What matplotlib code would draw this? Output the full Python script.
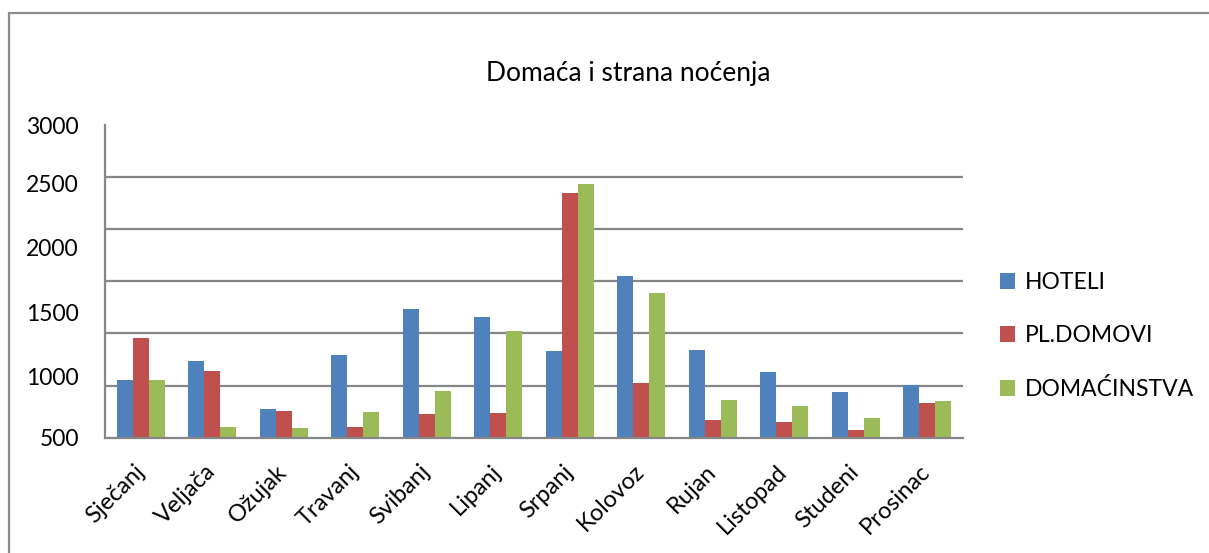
import numpy as np
import matplotlib
matplotlib.use("Agg")
import matplotlib.pyplot as plt
from matplotlib.ticker import FixedLocator, NullFormatter
from matplotlib.patches import Rectangle

plt.rcParams['font.family'] = ['Lato', 'DejaVu Sans']

# ---- data ----
months = ["Sječanj", "Veljača", "Ožujak", "Travanj", "Svibanj", "Lipanj",
          "Srpanj", "Kolovoz", "Rujan", "Listopad", "Studeni", "Prosinac"]
series_names = ["HOTELI", "PL.DOMOVI", "DOMAĆINSTVA"]
hoteli = [973, 1123, 735, 1170, 1528, 1466, 1201, 1781, 1209, 1037, 875, 932]
pl_domovi = [1302, 1045, 719, 588, 694, 703, 2424, 948, 645, 629, 563, 785]
domacinstva = [973, 590, 580, 711, 883, 1357, 2493, 1651, 809, 760, 662, 801]
y_ticks = [500, 1000, 1500, 2000, 2500, 3000]
title = "Domaća i strana noćenja"

colors = ["#4F81BD", "#C0504D", "#9BBB59"]
grid_col = "#868686"

# uneven label placement of the source axis (layout of the y scale)
tick_frac = np.array([0.0, 0.195, 0.400, 0.608, 0.814, 1.0])
tv = np.array(y_ticks, dtype=float)


def fwd(v):
    v = np.asarray(v, dtype=float)
    lo = (v - tv[0]) / (tv[1] - tv[0]) * (tick_frac[1] - tick_frac[0])
    hi = 1.0 + (v - tv[-1]) / (tv[-1] - tv[-2]) * (tick_frac[-1] - tick_frac[-2])
    mid = np.interp(v, tv, tick_frac)
    return np.where(v < tv[0], lo, np.where(v > tv[-1], hi, mid))


def inv(f):
    f = np.asarray(f, dtype=float)
    lo = tv[0] + f / (tick_frac[1] - tick_frac[0]) * (tv[1] - tv[0])
    hi = tv[-1] + (f - 1.0) / (tick_frac[-1] - tick_frac[-2]) * (tv[-1] - tv[-2])
    mid = np.interp(f, tick_frac, tv)
    return np.where(f < 0, lo, np.where(f > 1, hi, mid))


fig = plt.figure(figsize=(12.09, 5.53), dpi=100)
ax = fig.add_axes([105.3 / 1209, 1 - 437.7 / 553, (962.7 - 105.3) / 1209, (437.7 - 125) / 553])

x = np.arange(len(months))
w = 0.224
bars = []
for i, (vals, c) in enumerate(zip([hoteli, pl_domovi, domacinstva], colors)):
    b = ax.bar(x + (i - 1) * w, vals, w, color=c, zorder=3, label=series_names[i])
    bars.append(b)

ax.set_yscale('function', functions=(fwd, inv))
ax.set_ylim(500, 3000)
ax.set_xlim(-0.5, len(months) - 0.5)

ax.yaxis.set_major_locator(FixedLocator(y_ticks))
ax.yaxis.set_minor_locator(FixedLocator(list(inv(np.linspace(0, 1, 7)))))
ax.yaxis.set_minor_formatter(NullFormatter())
ax.grid(which='minor', axis='y', color=grid_col, lw=1.6, zorder=1)
ax.grid(which='major', visible=False)
ax.tick_params(axis='y', which='both', length=0, labelsize=16.5, pad=19)

ax.set_xticks(x)
ax.set_xticklabels(months, rotation=45, ha='right', va='center', rotation_mode='anchor', fontsize=17)
ax.tick_params(axis='x', length=0, pad=22)

for s in ['top', 'right']:
    ax.spines[s].set_visible(False)
for s in ['left', 'bottom']:
    ax.spines[s].set_color(grid_col)
    ax.spines[s].set_linewidth(1.6)
    ax.spines[s].set_zorder(4)

fig.text(628 / 1209, 1 - 73 / 553, title, ha='center', va='center', fontsize=19)

fig.legend(handles=bars, labels=series_names, loc='center left',
           bbox_to_anchor=(1000 / 1209, 1 - 336 / 553), frameon=False,
           fontsize=16.5, handlelength=0.65, handleheight=0.65,
           handletextpad=0.45, labelspacing=1.4, borderpad=0, borderaxespad=0)

fig.add_artist(Rectangle((9 / 1209, -0.1), 1.2, 1.1 - 13 / 553, transform=fig.transFigure,
                         fill=False, edgecolor="#8c8c8c", lw=1.6, clip_on=False))

fig.savefig("out.png", dpi=100)
